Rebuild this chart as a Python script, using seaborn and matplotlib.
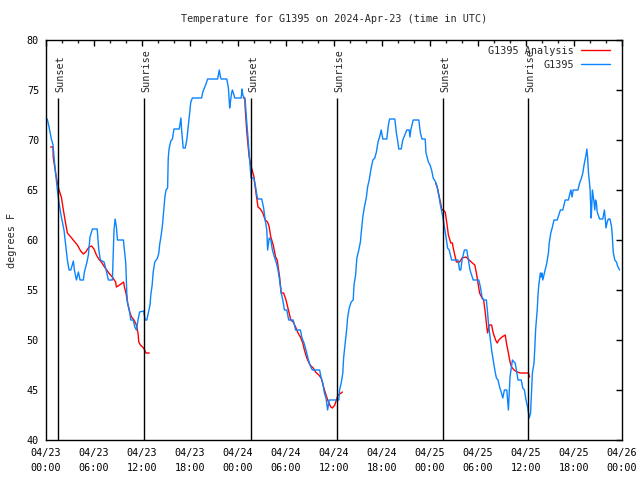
import matplotlib
matplotlib.use('Agg')
import matplotlib.pyplot as plt
import matplotlib.dates as mdates
import numpy as np
import pandas as pd
import seaborn as sns

# --- data (hours since 2024-04-23 00:00 UTC, degrees F) ---
START = pd.Timestamp('2024-04-23 00:00')

obs_hours = [0.16, 0.38, 0.67, 0.88, 1.0, 1.21, 1.42, 1.63, 1.92, 2.25, 2.46, 2.67, 2.88, 3.1,
             3.42, 3.55, 3.8, 4.05, 4.26, 4.67, 4.8, 5.09, 5.3, 5.5, 5.8, 6.4, 6.6, 6.8, 7.26,
             7.6, 7.8, 8.3, 8.5, 8.64, 8.8, 8.93, 9.68, 9.76, 9.97, 10.1, 10.2, 10.47, 10.6,
             10.9, 11.1, 11.3, 11.5, 11.7, 12.2, 12.4, 12.6, 12.86, 13.0, 13.1, 13.27, 13.4,
             13.6, 13.94, 14.1, 14.2, 14.4, 14.56, 14.7, 14.86, 15.0, 15.2, 15.28, 15.4, 15.6,
             15.8, 16.0, 16.65, 16.87, 16.95, 17.15, 17.4, 17.6, 17.9, 18.1, 18.3, 19.45, 19.6,
             19.8, 20.0, 20.2, 21.45, 21.66, 21.8, 21.9, 22.6, 22.8, 22.96, 23.05, 23.2, 23.3,
             23.6, 24.4, 24.5, 24.6, 24.9, 25.0, 25.2, 25.4, 25.63, 25.97, 26.2, 26.4, 26.5,
             26.97, 27.2, 27.4, 27.6, 27.7, 27.9, 28.1, 28.3, 28.55, 28.8, 29.0, 29.2, 29.4,
             29.6, 29.8, 30.1, 30.34, 30.9, 31.2, 31.8, 32.0, 32.25, 32.5, 32.8, 33.1, 33.3,
             34.2, 34.4, 34.6, 34.8, 35.0, 35.2, 35.4, 36.6, 36.7, 36.9, 37.1, 37.2, 37.4,
             37.6, 37.7, 37.9, 38.15, 38.4, 38.5, 38.7, 38.86, 39.1, 39.3, 39.4, 39.6, 39.8,
             40.05, 40.2, 40.4, 40.6, 40.86, 41.1, 41.3, 41.5, 41.7, 41.9, 42.1, 42.6, 42.8,
             42.95, 43.6, 43.8, 44.0, 44.1, 44.4, 44.6, 44.8, 45.1, 45.4, 45.5, 45.6, 45.9,
             46.6, 46.8, 47.0, 47.4, 47.5, 47.8, 48.0, 48.2, 48.4, 48.7, 48.9, 49.1, 49.3,
             49.5, 49.6, 49.8, 50.0, 50.2, 50.4, 50.7, 51.5, 51.7, 51.85, 52.0, 52.3, 52.6,
             52.8, 53.0, 53.4, 54.1, 54.3, 54.5, 54.7, 55.05, 55.2, 55.3, 55.56, 55.7, 55.9,
             56.1, 56.3, 56.5, 56.7, 56.9, 57.1, 57.3, 57.6, 57.7, 57.8, 58.0, 58.3, 58.5,
             58.65, 58.8, 59.0, 59.4, 59.6, 59.8, 60.0, 60.2, 60.4, 60.57, 60.7, 60.8, 61.0,
             61.1, 61.2, 61.4, 61.5, 61.6, 61.8, 61.9, 62.0, 62.1, 62.4, 62.6, 62.8, 62.9,
             63.1, 63.3, 63.5, 63.9, 64.1, 64.3, 64.6, 64.9, 65.3, 65.5, 65.6, 65.75, 65.9,
             66.1, 66.5, 66.7, 66.9, 67.1, 67.3, 67.5, 67.6, 67.7, 67.8, 68.0, 68.15, 68.2,
             68.3, 68.5, 68.6, 68.7, 68.8, 68.9, 69.2, 69.6, 69.8, 69.9, 70.0, 70.15, 70.3,
             70.5, 70.7, 70.8, 70.9, 71.1, 71.3, 71.5, 71.7]
obs_temp = [72.1, 71.3, 70.1, 69.5, 68.3, 66.7, 65.0, 63.7, 62.3, 61.0, 59.5, 58.0, 57.0, 57.0,
            57.9, 57.0, 56.0, 56.8, 56.0, 56.0, 56.8, 57.7, 58.5, 60.3, 61.1, 61.1, 59.0, 58.0, 57.8,
            56.7, 56.0, 56.0, 61.0, 62.1, 61.3, 60.0, 60.0, 59.3, 57.7, 54.7, 53.7, 52.7, 52.0,
            52.0, 51.3, 51.0, 52.0, 52.8, 52.9, 52.0, 52.0, 53.0, 53.5, 54.5, 55.5, 56.8,
            57.8, 58.2, 58.7, 59.5, 60.5, 61.5, 62.8, 64.3, 65.0, 65.2, 68.2, 69.2, 69.9,
            70.1, 71.1, 71.1, 72.2, 71.0, 69.2, 69.2, 70.0, 72.3, 73.8, 74.2, 74.2, 74.8,
            75.2, 75.6, 76.1, 76.1, 77.0, 76.3, 76.1, 76.1, 75.2, 73.2, 73.8, 74.7, 75.0,
            74.2, 74.2, 75.1, 74.5, 74.0, 72.8, 70.7, 68.7, 66.2, 66.2, 65.3, 64.3, 64.1,
            64.1, 63.2, 62.0, 61.0, 59.0, 60.2, 60.0, 59.0, 58.3, 57.7, 57.0, 56.0, 54.7,
            54.0, 53.0, 53.0, 52.0, 52.0, 51.0, 51.0, 50.2, 49.7, 49.0, 48.0, 47.3, 47.0,
            47.0, 46.2, 45.7, 44.7, 44.2, 43.0, 44.0, 44.0, 45.0, 45.7, 46.7, 48.2, 49.7,
            51.2, 52.2, 53.2, 53.8, 54.0, 55.5, 56.5, 58.2, 59.0, 59.8, 60.7, 62.3, 63.3,
            64.3, 65.3, 66.0, 67.0, 68.0, 68.2, 68.8, 69.8, 70.3, 71.0, 70.1, 70.1, 71.5,
            72.1, 72.1, 70.7, 69.7, 69.1, 69.1, 70.0, 70.4, 71.0, 71.0, 70.3, 71.0, 72.0,
            72.0, 70.7, 70.1, 70.1, 68.7, 67.8, 67.5, 67.0, 66.2, 65.8, 65.3, 64.5, 63.5,
            62.7, 62.3, 61.3, 60.3, 59.2, 59.0, 58.0, 58.0, 57.0, 57.0, 58.0, 59.0, 59.0,
            58.0, 57.0, 56.0, 56.0, 55.3, 54.3, 54.0, 54.0, 52.7, 51.7, 50.0, 49.0, 48.0,
            47.0, 46.2, 46.0, 45.3, 44.8, 44.2, 45.0, 45.0, 44.0, 43.0, 46.3, 48.0, 47.8,
            47.7, 47.0, 46.0, 46.0, 45.2, 45.0, 44.0, 43.3, 42.2, 42.7, 45.0, 46.7, 47.7,
            49.2, 51.0, 53.0, 54.5, 55.5, 56.7, 56.3, 56.7, 56.0, 57.0, 57.7, 58.7, 59.7,
            60.7, 61.3, 62.0, 62.0, 62.5, 63.0, 63.0, 64.0, 64.0, 64.7, 65.0, 64.3, 65.0,
            65.0, 65.0, 65.7, 66.1, 66.7, 67.7, 68.5, 69.1, 68.3, 66.8, 65.2, 62.2, 63.0,
            65.0, 63.8, 63.0, 64.0, 63.7, 62.8, 62.1, 62.1, 63.0, 62.2, 61.2, 61.8, 62.1,
            62.1, 61.3, 60.2, 58.8, 58.0, 57.8, 57.3, 57.0]

# analysis runs, one per night
ana1_hours = [0.58, 0.87, 0.9, 1.2, 1.4, 1.63, 1.92, 2.17, 2.38, 2.67, 3.1, 3.6, 3.92, 4.34, 4.67,
              4.97, 5.38, 5.7, 6.0, 6.3, 6.6, 7.0, 7.4, 7.85, 8.3, 8.7, 8.8, 9.2, 9.7, 9.8,
              10.0, 10.2, 10.5, 10.7, 11.0, 11.3, 11.5, 11.6, 11.8, 12.2, 12.5, 12.9]
ana1_temp = [69.3, 69.3, 68.3, 66.7, 65.8, 65.0, 64.3, 63.0, 62.0, 60.7, 60.3, 59.8, 59.5, 58.9, 58.6,
             58.8, 59.3, 59.4, 59.1, 58.5, 58.1, 57.7, 57.2, 56.7, 56.3, 55.8, 55.3, 55.5, 55.8, 55.3,
             54.7, 53.7, 52.7, 52.3, 52.0, 51.5, 50.7, 49.8, 49.5, 49.2, 48.7, 48.7]
ana2_hours = [24.65, 24.85, 24.9, 25.0, 25.1, 25.25, 25.4, 25.6, 26.0, 26.2, 26.5, 26.8, 27.1, 27.4,
              27.7, 27.9, 28.1, 28.4, 28.7, 28.9, 29.2, 29.4, 29.7, 30.0, 30.3, 30.6, 30.9, 31.2,
              31.5, 31.8, 32.1, 32.3, 32.6, 33.0, 33.4, 33.7, 34.1, 34.4, 34.7, 35.0, 35.3, 35.6,
              35.8, 36.1, 36.3, 36.5, 36.9, 37.05]
ana2_temp = [74.2, 74.2, 73.2, 72.0, 70.8, 69.5, 68.3, 67.5, 66.3, 65.0, 63.3, 63.1, 62.7, 62.0,
             61.8, 61.3, 60.3, 59.5, 58.3, 58.0, 56.3, 54.7, 54.7, 54.0, 53.0, 52.0, 51.8, 51.3,
             50.7, 50.3, 49.7, 49.0, 48.2, 47.5, 47.2, 46.8, 46.5, 46.2, 45.3, 44.5, 43.8, 43.3,
             43.2, 43.5, 44.0, 44.5, 44.7, 44.8]
ana3_hours = [48.7, 48.9, 49.1, 49.3, 49.5, 49.6, 49.9, 50.1, 50.3, 50.6, 50.8, 50.9, 51.1, 51.3,
              51.7, 52.0, 52.5, 52.9, 53.3, 53.6, 53.8, 54.0, 54.2, 54.5, 54.7, 54.9, 55.1, 55.2,
              55.4, 55.7, 55.9, 56.2, 56.4, 56.6, 57.0, 57.4, 57.6, 57.8, 58.0, 58.2, 58.5, 58.9,
              59.3, 60.3, 60.45]
ana3_temp = [65.7, 65.3, 64.5, 63.8, 63.0, 63.0, 62.8, 61.7, 60.5, 59.7, 59.7, 59.2, 58.5, 57.8,
             57.8, 58.2, 58.3, 58.0, 57.7, 57.5, 56.7, 55.7, 54.7, 54.2, 54.0, 52.8, 51.3, 50.7,
             51.5, 51.5, 50.7, 50.0, 49.7, 50.0, 50.3, 50.5, 49.5, 48.7, 47.8, 47.3, 47.0, 46.8,
             46.7, 46.7, 46.3]

sun_hours = [1.54, 12.31, 25.63, 36.35, 49.62, 60.27]
sun_names = ['Sunset', 'Sunrise', 'Sunset', 'Sunrise', 'Sunset', 'Sunrise']

TITLE = 'Temperature for G1395 on 2024-Apr-23 (time in UTC)'
OBS_COLOR = '#0a84ff'
ANA_COLOR = '#ff0000'
FS = 7.3


def to_time(hours):
    return START + pd.to_timedelta(np.asarray(hours), unit='h')


sns.set_style('white')
plt.rcParams['font.family'] = ['DejaVu Sans Mono']
plt.rcParams['axes.linewidth'] = 1.0

fig = plt.figure(figsize=(6.4, 4.8), dpi=100)
ax = fig.add_axes([46 / 640, 40 / 480, 576 / 640, 400 / 480])

for i, (h, t) in enumerate([(ana1_hours, ana1_temp), (ana2_hours, ana2_temp), (ana3_hours, ana3_temp)]):
    seg = pd.DataFrame({'time': to_time(h), 'temp': t})
    sns.lineplot(data=seg, x='time', y='temp', color=ANA_COLOR, lw=1.0, ax=ax,
                 label='G1395 Analysis' if i == 0 else None)

obs = pd.DataFrame({'time': to_time(obs_hours), 'temp': obs_temp})
sns.lineplot(data=obs, x='time', y='temp', color=OBS_COLOR, lw=1.0, ax=ax, label='G1395')

# sunrise / sunset markers
sun_times = to_time(sun_hours)
ax.vlines(sun_times, 40, 74.2, color='black', lw=1.0)
for t, name in zip(sun_times, sun_names):
    ax.annotate(name, (t, 74.75), xytext=(1.5, 0), textcoords='offset points',
                rotation=90, ha='center', va='bottom', fontsize=FS)

ax.set_xlim(START, START + pd.Timedelta(hours=72))
ax.set_ylim(40, 80)
ax.set_yticks(range(40, 81, 5))
ax.xaxis.set_major_locator(mdates.HourLocator(byhour=[0, 6, 12, 18]))
ax.xaxis.set_minor_locator(mdates.HourLocator(byhour=range(0, 24, 2)))
ax.xaxis.set_major_formatter(mdates.DateFormatter('%m/%d\n%H:%M'))
ax.tick_params(axis='both', which='major', direction='in', length=4.5, width=1,
               top=True, right=True, labelsize=FS, pad=5, colors='black')
ax.tick_params(axis='x', which='major', pad=6)
ax.tick_params(axis='x', which='minor', direction='in', length=2.5, width=1, top=True)
for sp in ax.spines.values():
    sp.set_visible(True)
    sp.set_color('black')

ax.set_xlabel('')
ax.set_ylabel('')
fig.text(12 / 640, 0.5, 'degrees F', rotation=90, ha='center', va='center', fontsize=FS)
fig.text(334 / 640, 1 - 19 / 480, TITLE, ha='center', va='center', fontsize=FS)

ax.legend(loc='upper right', bbox_to_anchor=(0.984, 0.9925), frameon=False,
          markerfirst=False, fontsize=FS, handlelength=2.8, handletextpad=0.75,
          labelspacing=0.35, borderaxespad=0.0, borderpad=0.3)

fig.canvas.draw()
for lab in ax.get_xticklabels():
    lab.set_linespacing(1.55)

fig.savefig('out.png', dpi=100)
